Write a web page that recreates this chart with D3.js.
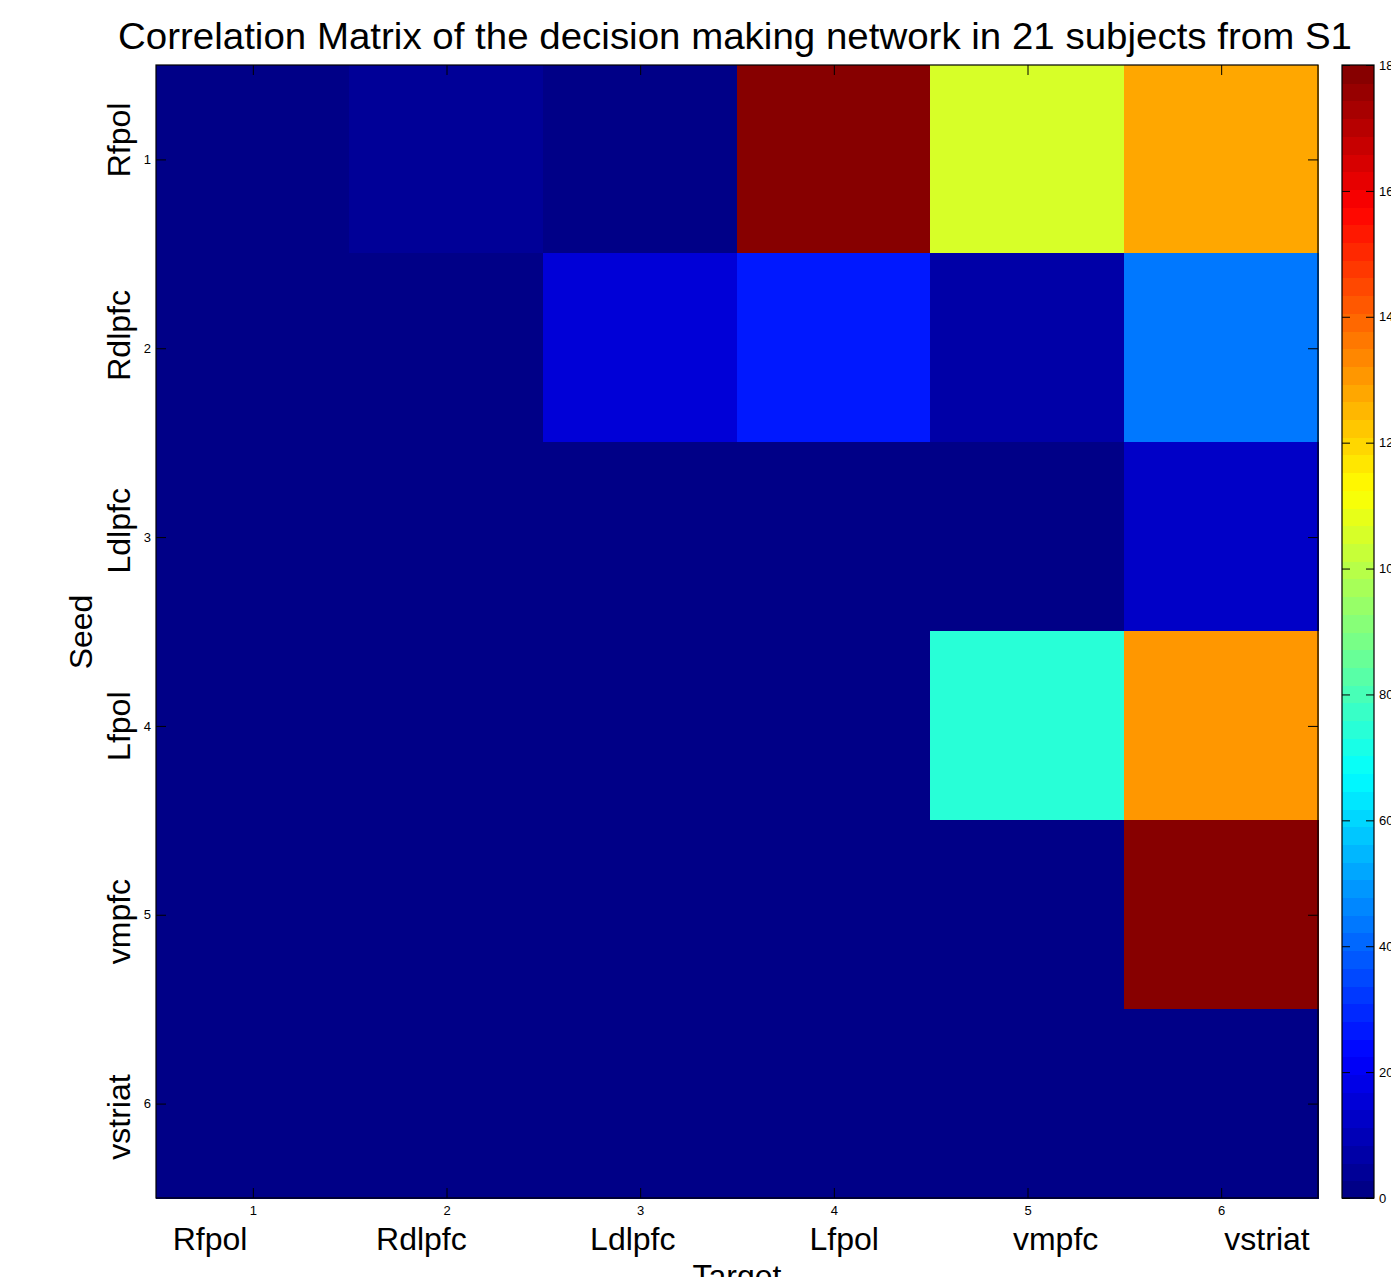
<!DOCTYPE html>
<head>
    <meta charset="utf-8">
    <title>Correlation Matrix</title>
    <script src="https://d3js.org/d3.v7.min.js"></script>
    <style>
        body { margin: 0; background: #fff; overflow: hidden; }
        svg { display: block; font-family: "Liberation Sans", Arial, sans-serif; }
        .tick line { stroke: #000; }
    </style>
</head>
<body>
    <div id="container"></div>
    <script>
        //--------------------------DATA--------------------------//
        var seeds = ["Rfpol", "Rdlpfc", "Ldlpfc", "Lfpol", "vmpfc", "vstriat"];
        var targets = ["Rfpol", "Rdlpfc", "Ldlpfc", "Lfpol", "vmpfc", "vstriat"];
        var rowRfpol = [0, 4, 0, 180, 105, 127];
        var rowRdlpfc = [0, 0, 15.5, 26.5, 7, 43.5];
        var rowLdlpfc = [0, 0, 0, 0, 0, 12.5];
        var rowLfpol = [0, 0, 0, 0, 74.5, 131];
        var rowVmpfc = [0, 0, 0, 0, 0, 179];
        var rowVstriat = [0, 0, 0, 0, 0, 0];
        var tickNums = [1, 2, 3, 4, 5, 6];
        var cbarTicks = [0, 20, 40, 60, 80, 100, 120, 140, 160, 180];
        var titleText = "Correlation Matrix of the decision making network in 21 subjects from S1";

        var rows = [rowRfpol, rowRdlpfc, rowLdlpfc, rowLfpol, rowVmpfc, rowVstriat];

        //------------------------PREP----------------------------//
        var W = 1391, H = 1277;
        var plot = { left: 156, right: 1318, top: 65, bottom: 1198 };
        var cbar = { left: 1342, right: 1374 };

        // matlab jet, 64 levels
        function jet(i, n) {
            var x = (i + 0.5) / n * 4;
            function c(v) { return Math.max(0, Math.min(1, v)); }
            var r = c(Math.min(x - 1.5, -x + 4.5));
            var g = c(Math.min(x - 0.5, -x + 3.5));
            var b = c(Math.min(x + 0.5, -x + 2.5));
            return d3.rgb(r * 255, g * 255, b * 255).toString();
        }
        var jetColors = d3.range(64).map(function (i) { return jet(i, 64); });
        var color = d3.scaleQuantize().domain([0, 180]).range(jetColors);

        var xScale = d3.scaleLinear().domain([0.5, 6.5]).range([plot.left, plot.right]);
        var yScale = d3.scaleLinear().domain([0.5, 6.5]).range([plot.top, plot.bottom]);
        var cScale = d3.scaleLinear().domain([0, 180]).range([plot.bottom, plot.top]);

        var svg = d3.select("#container").append("svg")
            .attr("width", W).attr("height", H);

        //------------------------CELLS---------------------------//
        var cells = [];
        rows.forEach(function (r, i) {
            r.forEach(function (v, j) { cells.push({ row: i + 1, col: j + 1, value: v }); });
        });

        svg.append("g").attr("shape-rendering", "crispEdges").selectAll("rect")
            .data(cells)
            .enter().append("rect")
            .attr("x", function (d) { return Math.floor(xScale(d.col - 0.5)); })
            .attr("y", function (d) { return Math.floor(yScale(d.row - 0.5)); })
            .attr("width", function (d) { return Math.ceil(xScale(d.col + 0.5) - xScale(d.col - 0.5)) + 1; })
            .attr("height", function (d) { return Math.ceil(yScale(d.row + 0.5) - yScale(d.row - 0.5)) + 1; })
            .attr("fill", function (d) { return color(d.value); });

        //------------------------AXES----------------------------//
        var tickLen = 10;
        var fmt = d3.format("d");
        svg.append("g")
            .attr("transform", "translate(" + plot.left + ",0)")
            .call(d3.axisLeft(yScale).tickValues(tickNums).tickFormat(fmt).tickSizeInner(-tickLen).tickSizeOuter(0).tickPadding(5))
            .call(function (g) { g.select(".domain").remove(); g.selectAll("text").attr("font-size", 13).attr("font-family", "Liberation Sans"); });

        svg.append("g")
            .attr("transform", "translate(" + plot.right + ",0)")
            .call(d3.axisRight(yScale).tickValues(tickNums).tickSizeInner(-tickLen).tickSizeOuter(0).tickFormat(""))
            .call(function (g) { g.select(".domain").remove(); });

        svg.append("g")
            .attr("transform", "translate(0," + plot.bottom + ")")
            .call(d3.axisBottom(xScale).tickValues(tickNums).tickFormat(fmt).tickSizeInner(-tickLen).tickSizeOuter(0).tickPadding(8))
            .call(function (g) { g.select(".domain").remove(); g.selectAll("text").attr("font-size", 13).attr("font-family", "Liberation Sans"); });

        svg.append("g")
            .attr("transform", "translate(0," + plot.top + ")")
            .call(d3.axisTop(xScale).tickValues(tickNums).tickSizeInner(-tickLen).tickSizeOuter(0).tickFormat(""))
            .call(function (g) { g.select(".domain").remove(); });

        svg.append("rect")
            .attr("x", plot.left).attr("y", plot.top)
            .attr("width", plot.right - plot.left).attr("height", plot.bottom - plot.top)
            .attr("fill", "none").attr("stroke", "#000").attr("stroke-width", 1.2);

        //----------------------CATEGORY LABELS-------------------//
        var xLab = d3.scalePoint().domain(targets).range([210, 1267]);
        var yLab = d3.scalePoint().domain(seeds).range([140, 1117]);

        svg.append("g").selectAll("text")
            .data(targets)
            .enter().append("text")
            .attr("x", function (d) { return xLab(d); })
            .attr("y", 1250)
            .attr("text-anchor", "middle")
            .attr("font-size", 32)
            .text(function (d) { return d; });

        svg.append("g").selectAll("text")
            .data(seeds)
            .enter().append("text")
            .attr("transform", function (d) { return "translate(130," + yLab(d) + ") rotate(-90)"; })
            .attr("text-anchor", "middle")
            .attr("font-size", 32)
            .text(function (d) { return d; });

        svg.append("text")
            .attr("transform", "translate(92,632) rotate(-90)")
            .attr("text-anchor", "middle")
            .attr("font-size", 32)
            .text("Seed");

        svg.append("text")
            .attr("x", 737).attr("y", 1287)
            .attr("text-anchor", "middle")
            .attr("font-size", 32)
            .text("Target");

        //------------------------TITLE---------------------------//
        svg.append("text")
            .attr("x", 735).attr("y", 49)
            .attr("text-anchor", "middle")
            .attr("font-size", 36)
            .attr("textLength", 1234)
            .attr("lengthAdjust", "spacingAndGlyphs")
            .text(titleText);

        //-----------------------COLORBAR-------------------------//
        var step = 180 / 64;
        svg.append("g").attr("shape-rendering", "crispEdges").selectAll("rect")
            .data(d3.range(64))
            .enter().append("rect")
            .attr("x", cbar.left)
            .attr("y", function (i) { return cScale((i + 1) * step); })
            .attr("width", cbar.right - cbar.left)
            .attr("height", function (i) { return cScale(i * step) - cScale((i + 1) * step) + 1; })
            .attr("fill", function (i) { return jetColors[i]; });

        svg.append("g")
            .attr("transform", "translate(" + cbar.right + ",0)")
            .call(d3.axisRight(cScale).tickValues(cbarTicks).tickSizeInner(-8).tickSizeOuter(0).tickPadding(5))
            .call(function (g) { g.select(".domain").remove(); g.selectAll("text").attr("font-size", 13).attr("font-family", "Liberation Sans"); });

        svg.append("g")
            .attr("transform", "translate(" + cbar.left + ",0)")
            .call(d3.axisLeft(cScale).tickValues(cbarTicks).tickSizeInner(-8).tickSizeOuter(0).tickFormat(""))
            .call(function (g) { g.select(".domain").remove(); });

        svg.append("rect")
            .attr("x", cbar.left).attr("y", plot.top)
            .attr("width", cbar.right - cbar.left).attr("height", plot.bottom - plot.top)
            .attr("fill", "none").attr("stroke", "#000").attr("stroke-width", 1.2);
    </script>
</body>
